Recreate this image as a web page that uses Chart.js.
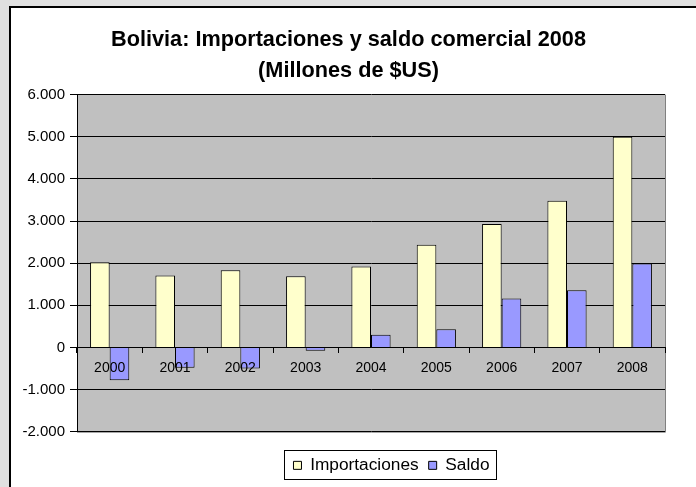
<!DOCTYPE html>
<html>
<head>
<meta charset="utf-8">
<script src="https://cdn.jsdelivr.net/npm/chart.js@4.4.1/dist/chart.umd.min.js"></script>
<style>
  html, body { margin: 0; padding: 0; background: #E0E0E0; }
  body { width: 696px; height: 487px; position: relative; overflow: hidden; }
  #frame { position: absolute; left: 9px; top: 6px; width: 700px; height: 500px;
           background: #fff; border-left: 2px solid #000; border-top: 2px solid #000; }
  #wrap { position: absolute; left: 0; top: 0; width: 696px; height: 487px; }
</style>
</head>
<body>
<div id="frame"></div>
<div id="wrap"><canvas id="c" width="696" height="487"></canvas></div>
<script>
const titleLines = ['Bolivia: Importaciones y saldo comercial 2008', '(Millones de $US)'];
const years = ['2000', '2001', '2002', '2003', '2004', '2005', '2006', '2007', '2008'];
const importaciones = [2020, 1710, 1830, 1690, 1920, 2440, 2930, 3480, 5000];
const saldo = [-780, -480, -500, -80, 300, 430, 1160, 1360, 1990];
const seriesNames = ['Importaciones', 'Saldo'];
const yMin = -2000, yMax = 6000, yStep = 1000;

function fmt(v) {
  const neg = v < 0; let s = String(Math.abs(v));
  s = s.replace(/\B(?=(\d{3})+(?!\d))/g, '.');
  return (neg ? '-' : '') + s;
}

const FONT = "'Liberation Sans', Arial, sans-serif";

const plotBg = {
  id: 'plotBg',
  beforeDraw(chart) {
    const a = chart.chartArea, ctx = chart.ctx;
    ctx.save();
    ctx.fillStyle = '#C0C0C0';
    ctx.fillRect(a.left, a.top, a.right - a.left, a.bottom - a.top);
    ctx.strokeStyle = '#808080'; ctx.lineWidth = 1;
    ctx.beginPath();
    ctx.moveTo(a.right + 0.5, a.top); ctx.lineTo(a.right + 0.5, a.bottom + 0.5);
    ctx.lineTo(a.left, a.bottom + 0.5);
    ctx.stroke();
    ctx.restore();
  }
};

const shifts = {
  id: 'shifts',
  afterLayout(chart) {
    const l = chart.legend; l.left += 59; l.right += 59; l.top += 15; l.bottom += 15;
    const t = chart.titleBlock; t.left += 16; t.right += 16; t.top += 1; t.bottom += 1;
  },
  afterDraw(chart) {
    const l = chart.legend, ctx = chart.ctx;
    const w = l.lineWidths[0];
    const cx = (l.left + l.right) / 2;
    ctx.save();
    ctx.strokeStyle = '#000'; ctx.lineWidth = 1;
    ctx.strokeRect(Math.round(cx - w / 2 - 4) + 0.5, 450.5, Math.round(w + 6), 29);
    ctx.restore();
  }
};

new Chart(document.getElementById('c'), {
  type: 'bar',
  data: {
    labels: years,
    datasets: [
      { label: seriesNames[0], data: importaciones, backgroundColor: '#FFFFCC', borderColor: '#000', borderWidth: 1 },
      { label: seriesNames[1], data: saldo, backgroundColor: '#9999FF', borderColor: '#000', borderWidth: 1 }
    ]
  },
  options: {
    responsive: false,
    animation: false,
    devicePixelRatio: 1,
    layout: { padding: { left: 0, right: 31, top: 0, bottom: 18 } },
    datasets: { bar: { categoryPercentage: 0.6, barPercentage: 1.0 } },
    plugins: {
      title: {
        display: true, text: titleLines, color: '#000',
        font: { family: FONT, size: 21.7, weight: 'bold', lineHeight: 1.42 },
        padding: { top: 24, bottom: 9 }
      },
      legend: {
        position: 'bottom',
        labels: {
          color: '#000', font: { family: FONT, size: 17.3 },
          boxWidth: 8, boxHeight: 8, padding: 10, useBorderRadius: false
        }
      },
      tooltip: { enabled: false }
    },
    scales: {
      x: {
        position: { y: 0 },
        grid: { drawOnChartArea: false, drawTicks: true, tickLength: 5, color: '#000', offset: true, z: 1 },
        border: { color: '#000', width: 1, z: 1 },
        ticks: { color: '#000', font: { family: FONT, size: 14 }, padding: 7, maxRotation: 0, z: 1 }
      },
      y: {
        min: yMin, max: yMax,
        afterFit(s) { s.width = 77; },
        grid: { color: '#000', lineWidth: 1, tickLength: 7, drawTicks: true },
        border: { color: '#000', width: 1 },
        ticks: { stepSize: yStep, color: '#000', font: { family: FONT, size: 15 }, padding: 5,
                 callback: v => fmt(v) }
      }
    }
  },
  plugins: [plotBg, shifts]
});
</script>
</body>
</html>
